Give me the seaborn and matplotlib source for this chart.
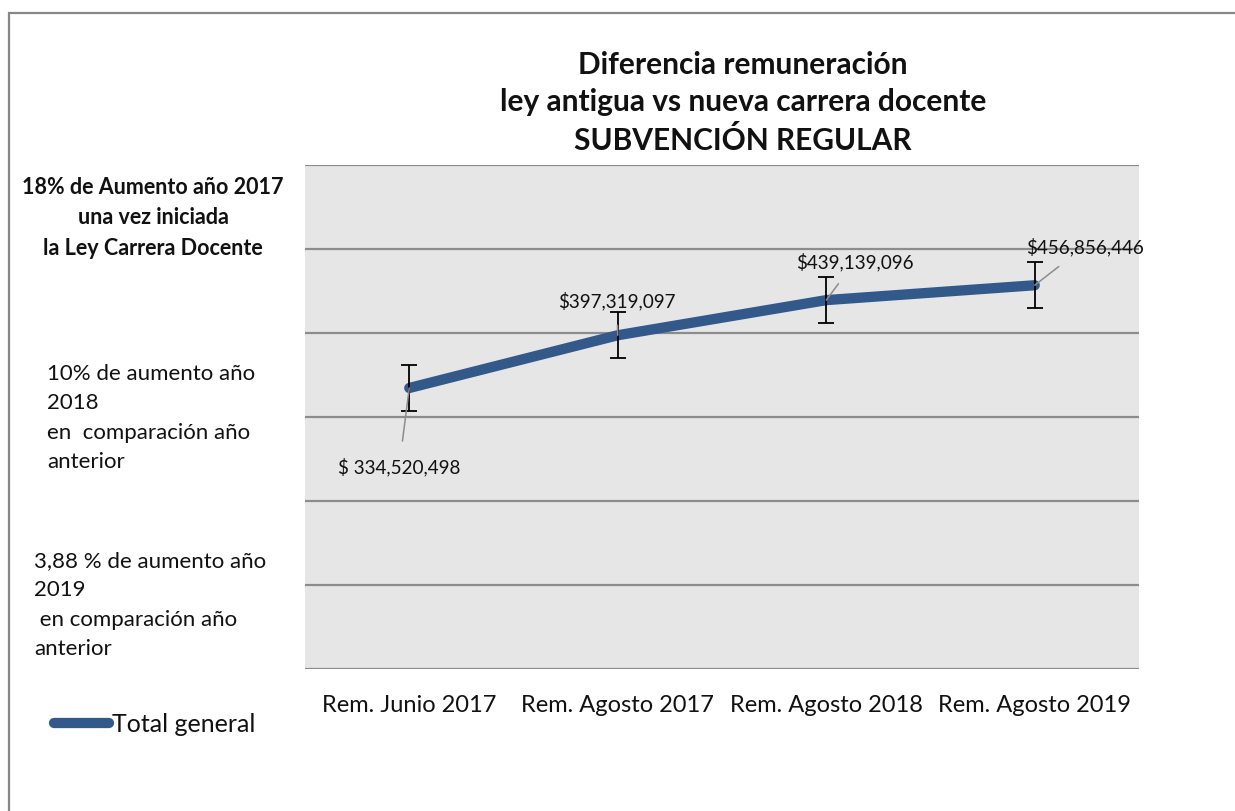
import numpy as np
import pandas as pd
import seaborn as sns
import matplotlib.pyplot as plt
from matplotlib.patches import Rectangle

# Data
periods = ["Rem. Junio 2017", "Rem. Agosto 2017", "Rem. Agosto 2018", "Rem. Agosto 2019"]
totals = [334520498, 397319097, 439139096, 456856446]
value_labels = ["$ 334,520,498", "$397,319,097", "$439,139,096", "$456,856,446"]
# label offsets (pixels) from each point
label_offsets = [(-10, -78), (-1, 35), (29, 39), (50, 39)]

notes_bold = "18% de Aumento año 2017\nuna vez iniciada\nla Ley Carrera Docente"
note_2018 = "10% de aumento año\n2018\nen  comparación año\nanterior"
note_2019 = "3,88 % de aumento año\n2019\n en comparación año\nanterior"
title = "Diferencia remuneración\nley antigua vs nueva carrera docente\nSUBVENCIÓN REGULAR"

sns.set_theme(style="white")
plt.rcParams["font.family"] = ["Lato", "DejaVu Sans"]

LINE_COLOR = "#32598A"
GRID_COLOR = "#8C8C8C"
TEXT_COLOR = "#111111"

W, H = 1235, 812
fig = plt.figure(figsize=(W / 100, H / 100), dpi=100)

# figure frame (top and left edges visible)
fig.add_artist(Rectangle((8.5 / W, -0.1), 1.2, (H - 14) / H + 0.1, transform=fig.transFigure,
                         fill=False, edgecolor="#878787", linewidth=1.6))

ax = fig.add_axes([305 / W, 1 - 670 / H, (1139 - 305) / W, (670 - 166) / H])
ax.set_facecolor("#E6E6E6")

df = pd.DataFrame({"periodo": np.arange(len(periods)), "total": totals})
sns.lineplot(data=df, x="periodo", y="total", ax=ax, color=LINE_COLOR,
             linewidth=7.4, solid_capstyle="round", zorder=3)

# standard error bars
vals = np.array(totals, dtype=float)
se = vals.std(ddof=1) / np.sqrt(len(vals))
ax.errorbar(df["periodo"], df["total"], yerr=se, fmt="none", ecolor="black",
            elinewidth=1.3, capsize=5.5, capthick=1.3, zorder=4)

ax.set_xlim(-0.5, len(periods) - 0.5)
ax.set_ylim(0, 600e6)
ax.set_yticks(np.arange(0, 600e6 + 1, 100e6))
ax.yaxis.grid(True, color=GRID_COLOR, linewidth=1.6)
ax.xaxis.grid(False)
ax.set_axisbelow(True)
ax.tick_params(axis="y", left=False, labelleft=False)
ax.tick_params(axis="x", bottom=False, pad=12, labelsize=17)
ax.set_xticks(df["periodo"])
ax.set_xticklabels(periods)
for lab in ax.get_xticklabels():
    lab.set_color(TEXT_COLOR)
ax.set_xlabel("")
ax.set_ylabel("")
for s in ax.spines.values():
    s.set_visible(False)

# value labels with leader lines
for xi, yi, txt, (dx, dy) in zip(df["periodo"], df["total"], value_labels, label_offsets):
    ax.annotate(txt, xy=(xi, yi), xytext=(dx, dy), textcoords="offset pixels",
                ha="center", va="center", fontsize=13.6, color=TEXT_COLOR, zorder=5,
                arrowprops=dict(arrowstyle="-", color="#8C8C8C", lw=1.1,
                                shrinkA=9, shrinkB=0))

# title
fig.text(743 / W, 1 - 103 / H, title, ha="center", va="center", fontsize=21.5,
         fontweight="bold", linespacing=1.42, color=TEXT_COLOR)

# side notes
fig.text(153 / W, 1 - 218 / H, notes_bold, ha="center", va="center", fontsize=15.5,
         fontweight="bold", linespacing=1.54, color=TEXT_COLOR)
fig.text(47 / W, 1 - 418 / H, note_2018, ha="left", va="center", fontsize=16,
         linespacing=1.6, color=TEXT_COLOR)
fig.text(34 / W, 1 - 605 / H, note_2019, ha="left", va="center", fontsize=16,
         linespacing=1.6, color=TEXT_COLOR)

# legend
leg = ax.legend(handles=[plt.Line2D([], [], color=LINE_COLOR, linewidth=7.4,
                                    solid_capstyle="round")],
                labels=["Total general"], loc="center left",
                bbox_to_anchor=(54 / W, 1 - 725 / H), bbox_transform=fig.transFigure,
                frameon=False, fontsize=18, handlelength=2.2, handletextpad=0.1,
                borderpad=0, borderaxespad=0)
for t in leg.get_texts():
    t.set_color(TEXT_COLOR)

fig.savefig("out.png", dpi=100)
